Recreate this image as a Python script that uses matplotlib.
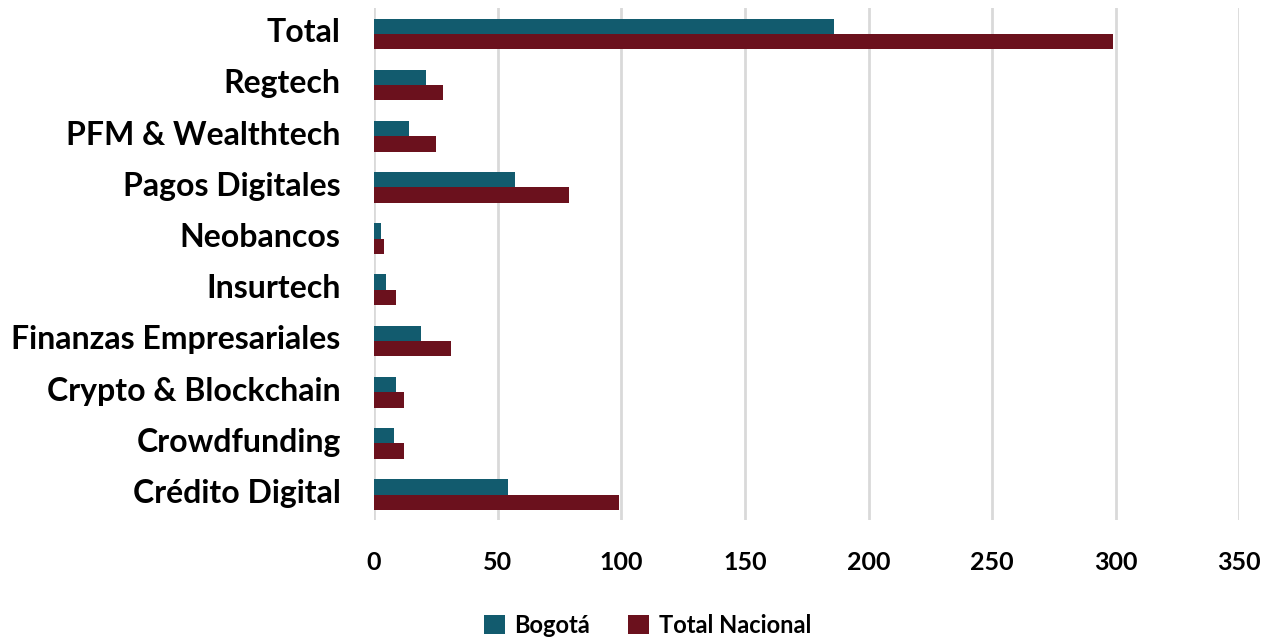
import matplotlib.pyplot as plt
import numpy as np

# categories, bottom to top
categorias = ['Crédito Digital', 'Crowdfunding', 'Crypto & Blockchain', 'Finanzas Empresariales',
              'Insurtech', 'Neobancos', 'Pagos Digitales', 'PFM & Wealthtech', 'Regtech', 'Total']
bogota = [54, 8, 9, 19, 5, 3, 57, 14, 21, 186]
nacional = [99, 12, 12, 31, 9, 4, 79, 25, 28, 299]

azul = '#125b6e'
rojo = '#6b111d'

plt.rcParams['font.family'] = ['Lato', 'DejaVu Sans']
plt.rcParams['font.weight'] = 'bold'

fig = plt.figure(figsize=(12.69, 6.39), dpi=100)
ax = fig.add_axes([0.2947, 0.186, 0.682, 0.801])

y = np.arange(len(categorias))
h = 0.3
ax.barh(y + h / 2, bogota, height=h, color=azul, label='Bogotá', zorder=3)
ax.barh(y - h / 2, nacional, height=h, color=rojo, label='Total Nacional', zorder=3)

ax.set_xlim(0, 350)
ax.set_ylim(-0.5, len(categorias) - 0.5)
ax.set_xticks(range(0, 351, 50))
ax.set_yticks(y + 0.07)
ax.set_yticklabels(categorias, fontsize=23, fontweight='bold')
ax.tick_params(axis='x', labelsize=18, length=0, pad=22)
ax.tick_params(axis='y', length=0, pad=24)
for lab in ax.get_xticklabels():
    lab.set_fontweight('bold')

ax.grid(axis='x', color='#d9d9d9', linewidth=2, zorder=0)
for s in ax.spines.values():
    s.set_visible(False)

ax.legend(loc='center', bbox_to_anchor=(0.316, -0.205), ncol=2, frameon=False,
          prop={'size': 17, 'weight': 'bold'}, handlelength=0.9, handleheight=0.9,
          columnspacing=1.6, handletextpad=0.4)

fig.savefig('out.png', dpi=100)
